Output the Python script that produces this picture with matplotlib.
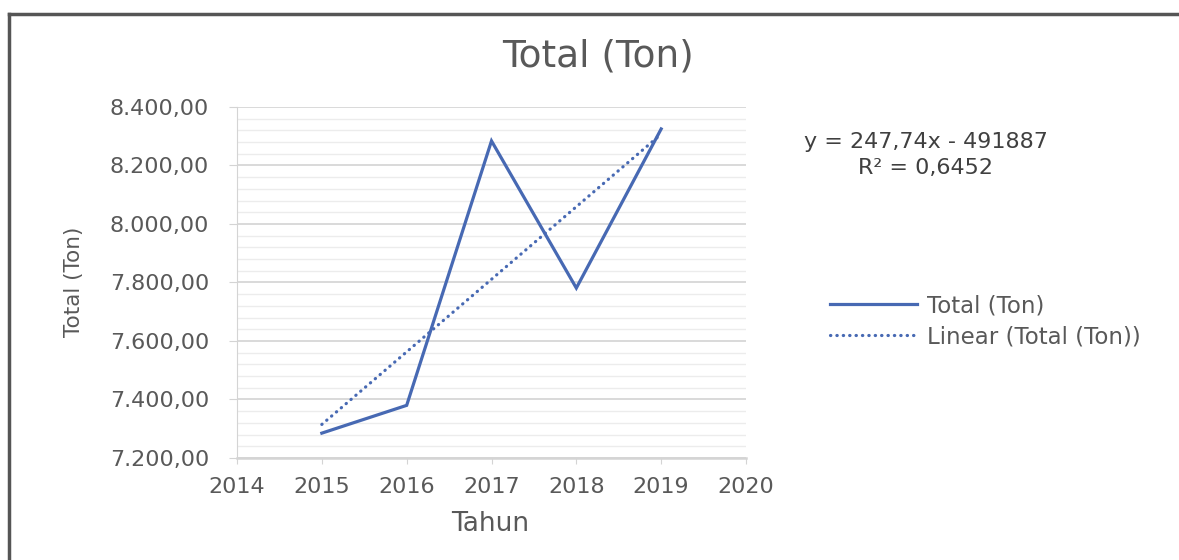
import matplotlib.pyplot as plt
import numpy as np
from matplotlib import font_manager
from matplotlib.ticker import FuncFormatter, MultipleLocator
from matplotlib.lines import Line2D

years = [2015, 2016, 2017, 2018, 2019]
total_ton = [7285, 7380, 8284, 7781, 8325]

plt.rcParams['font.family'] = ['DejaVu Sans']
names = {f.name for f in font_manager.fontManager.ttflist}
narrow = 'Liberation Sans Narrow' in names

W, H = 1179, 560
fig = plt.figure(figsize=(W/100, H/100), dpi=100)
ax = fig.add_axes([237/W, 1-458/H, (746-237)/W, (458-107)/H])

blue = '#4769b3'
grey = '#595959'
dots = (0, (0.1, 1.9))

ax.plot(years, total_ton, color=blue, lw=2.3, solid_joinstyle='miter')

# linear trendline of the series
coef = np.polyfit(years, total_ton, 1)
ax.plot(years, np.polyval(coef, years), color=blue, lw=2.3, linestyle=dots,
        dash_capstyle='round')

ax.set_xlim(2014, 2020)
ax.set_ylim(7200, 8400)
ax.yaxis.set_major_locator(MultipleLocator(200))
ax.yaxis.set_minor_locator(MultipleLocator(40))
ax.xaxis.set_major_locator(MultipleLocator(1))
ax.yaxis.set_major_formatter(FuncFormatter(
    lambda v, p: f"{v:,.2f}".replace(',', 'X').replace('.', ',').replace('X', '.')))
ax.grid(which='major', axis='y', color='#d9d9d9', lw=1.4)
ax.grid(which='minor', axis='y', color='#ececec', lw=1.0)
ax.set_axisbelow(True)
for s in ['top', 'right']:
    ax.spines[s].set_visible(False)
ax.spines['left'].set_color('#d4d4d4')
ax.spines['bottom'].set_color('#d4d4d4')
ax.spines['bottom'].set_linewidth(1.8)
ax.tick_params(axis='both', which='major', colors='#d4d4d4', labelcolor=grey,
               labelsize=16, direction='out')
ax.tick_params(axis='y', which='major', length=6, pad=14)
ax.tick_params(axis='x', which='major', length=4, pad=10)
ax.tick_params(axis='y', which='minor', length=0)

fig.text(490/W, 1-524/H, 'Tahun', ha='center', va='center', fontsize=19, color=grey)
if narrow:
    fig.text(74/W, 1-282/H, 'Total (Ton)', rotation=90, ha='center', va='center',
             fontsize=19, color=grey, family='Liberation Sans Narrow')
else:
    fig.text(74/W, 1-282/H, 'Total (Ton)', rotation=90, ha='center', va='center',
             fontsize=15.5, color=grey)

fig.text(598/W, 1-57/H, 'Total (Ton)', ha='center', va='center', fontsize=27, color=grey)

fig.text(926/W, 1-142/H, 'y = 247,74x - 491887', ha='center', va='center',
         fontsize=16, color='#404040')
fig.text(926/W, 1-168/H, 'R² = 0,6452', ha='center', va='center',
         fontsize=16, color='#404040')

handles = [Line2D([], [], color=blue, lw=2.3),
           Line2D([], [], color=blue, lw=2.3, linestyle=dots, dash_capstyle='round')]
fig.legend(handles, ['Total (Ton)', 'Linear (Total (Ton))'], loc='center left',
           bbox_to_anchor=(830/W, 1-321.5/H), frameon=False, fontsize=16.5,
           labelcolor=grey, handlelength=3.8, handletextpad=0.45, labelspacing=0.35,
           borderpad=0, borderaxespad=0)

# outer chart border (only top and left are visible in the crop)
fig.add_artist(Line2D([9/W, 9/W], [0, 1-14/H], color='#555555', lw=2.5, transform=fig.transFigure))
fig.add_artist(Line2D([9/W, 1], [1-14/H, 1-14/H], color='#555555', lw=2.5, transform=fig.transFigure))

plt.savefig('out.png', dpi=100, facecolor='white')
